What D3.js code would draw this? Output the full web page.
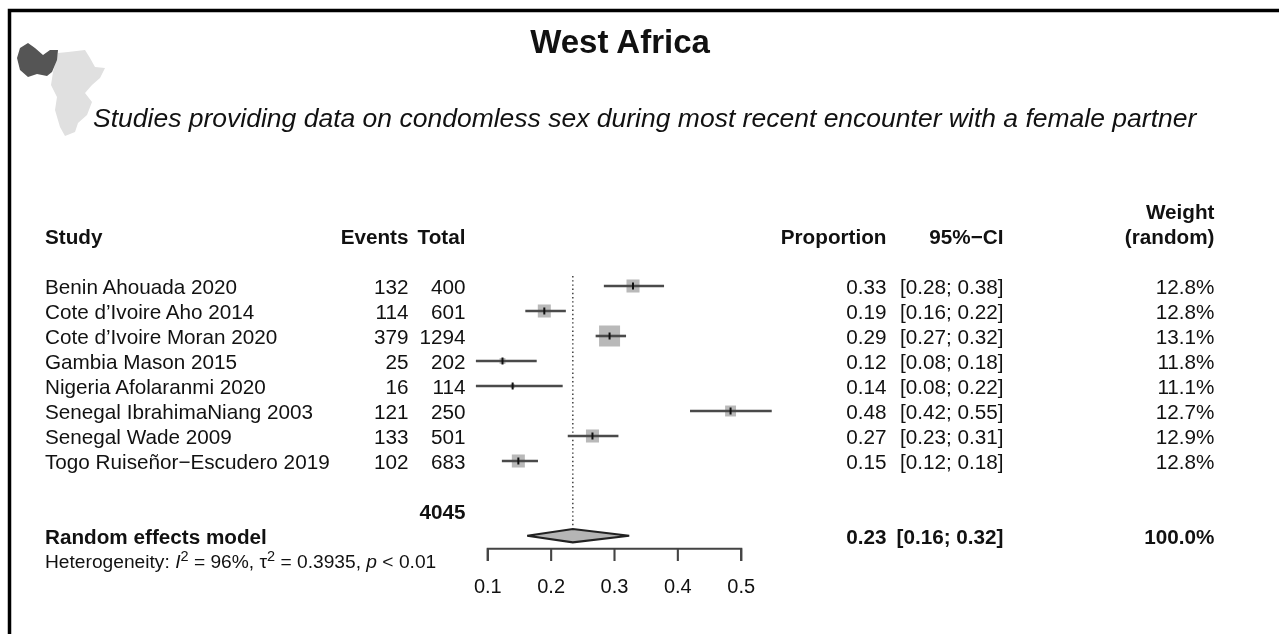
<!DOCTYPE html>
<html>
<head>
<meta charset="utf-8">
<script src="https://cdn.jsdelivr.net/npm/d3@7"></script>
<style>
  html, body { margin: 0; padding: 0; background: #fff; }
  svg { display: block; filter: blur(0.6px); }
  text { font-family: "Liberation Sans", Arial, sans-serif; fill: #111; }
</style>
</head>
<body>
<div id="viz"></div>
<script>
const studies = ['Benin Ahouada 2020', 'Cote d\u2019Ivoire Aho 2014', 'Cote d\u2019Ivoire Moran 2020', 'Gambia Mason 2015',
  'Nigeria Afolaranmi 2020', 'Senegal IbrahimaNiang 2003', 'Senegal Wade 2009', 'Togo Ruise\u00f1or\u2212Escudero 2019'];
const events = [132, 114, 379, 25, 16, 121, 133, 102];
const totals = [400, 601, 1294, 202, 114, 250, 501, 683];
const proportions = ['0.33', '0.19', '0.29', '0.12', '0.14', '0.48', '0.27', '0.15'];
const ciLabels = ['[0.28; 0.38]', '[0.16; 0.22]', '[0.27; 0.32]', '[0.08; 0.18]', '[0.08; 0.22]', '[0.42; 0.55]', '[0.23; 0.31]', '[0.12; 0.18]'];
const weights = ['12.8%', '12.8%', '13.1%', '11.8%', '11.1%', '12.7%', '12.9%', '12.8%'];

const points = [0.33, 0.19, 0.293, 0.124, 0.14, 0.484, 0.266, 0.149];
const lowers = [0.284, 0.16, 0.271, 0.082, 0.082, 0.42, 0.227, 0.123];
const uppers = [0.379, 0.224, 0.319, 0.178, 0.219, 0.549, 0.307, 0.18];
const boxPrecision = [0.62, 0.62, 1, 0.28, 0.2, 0.52, 0.62, 0.62];

const pooledLower = 0.163;
const pooledMid = 0.235;
const pooledUpper = 0.324;
const xTickValues = [0.1, 0.2, 0.3, 0.4, 0.5];

const width = 1279;
const height = 634;

const svg = d3.select('#viz').append('svg')
  .attr('width', width)
  .attr('height', height)
  .attr('viewBox', `0 0 ${width} ${height}`);

// frame, only top and left show
svg.append('path')
  .attr('d', `M9.5,${height}V10.5H${width}`)
  .attr('fill', 'none')
  .attr('stroke', '#000')
  .attr('stroke-width', 3.5);

// locator map
const mapLine = d3.line();
const africa = [[58, 53], [68, 52], [85, 50], [90, 58], [95, 67], [105, 68], [100, 78], [92, 85], [85, 93], [92, 102],
  [87, 115], [78, 123], [75, 132], [65, 136], [60, 127], [55, 110], [57, 97], [51, 85], [53, 72]];
const westRegion = [[17, 58], [20, 48], [28, 43], [35, 48], [43, 55], [50, 50], [58, 50], [57, 60], [52, 72], [47, 76],
  [37, 74], [28, 77], [20, 70]];
svg.append('path').attr('d', mapLine(africa) + 'Z').attr('fill', '#e0e0e0');
svg.append('path').attr('d', mapLine(westRegion) + 'Z').attr('fill', '#555');

svg.append('text').attr('x', 620).attr('y', 53)
  .attr('text-anchor', 'middle').attr('font-size', 33).attr('font-weight', 'bold')
  .text('West Africa');
svg.append('text').attr('x', 93).attr('y', 127)
  .attr('font-size', 26.5).attr('font-style', 'italic')
  .text('Studies providing data on condomless sex during most recent encounter with a female partner');

const x = d3.scaleLinear().domain([0.1, 0.5]).range([487.3, 740.7]);
const y = d3.scaleLinear().domain([0, 7]).range([286, 461]);
const box = d3.scaleLinear().domain([0, 1]).range([0, 21]);

const fontSize = 20.7;
const rows = d3.range(studies.length);

function column(values, xPos, anchor) {
  svg.append('g').selectAll('text').data(values).enter().append('text')
    .attr('x', xPos)
    .attr('y', (d, i) => y(i) + 8)
    .attr('text-anchor', anchor)
    .attr('font-size', fontSize)
    .attr('fill', '#222')
    .text((d) => d);
}

column(studies, 45, 'start');
column(events, 408.5, 'end');
column(totals, 465.5, 'end');
column(proportions, 886.5, 'end');
column(ciLabels, 1003.5, 'end');
column(weights, 1214.5, 'end');

// header
const headers = [['Study', 45, 'start'], ['Events', 408.5, 'end'], ['Total', 465.5, 'end'], ['Proportion', 886.5, 'end'],
  ['95%\u2212CI', 1003.5, 'end'], ['(random)', 1214.5, 'end']];
svg.append('g').selectAll('text').data(headers).enter().append('text')
  .attr('x', (d) => d[1])
  .attr('y', 244)
  .attr('text-anchor', (d) => d[2])
  .attr('font-size', fontSize)
  .attr('font-weight', 'bold')
  .text((d) => d[0]);
svg.append('text').attr('x', 1214.5).attr('y', 219)
  .attr('text-anchor', 'end').attr('font-size', fontSize).attr('font-weight', 'bold')
  .text('Weight');

// summary row
const summary = [['Random effects model', 45, 'start'], ['0.23', 886.5, 'end'], ['[0.16; 0.32]', 1003.5, 'end'], ['100.0%', 1214.5, 'end']];
svg.append('g').selectAll('text').data(summary).enter().append('text')
  .attr('x', (d) => d[1])
  .attr('y', 544)
  .attr('text-anchor', (d) => d[2])
  .attr('font-size', fontSize)
  .attr('font-weight', 'bold')
  .text((d) => d[0]);
svg.append('text').attr('x', 465.5).attr('y', 519)
  .attr('text-anchor', 'end').attr('font-size', fontSize).attr('font-weight', 'bold')
  .text('4045');

const het = svg.append('text').attr('x', 45).attr('y', 567.5).attr('font-size', 19.2).attr('fill', '#222');
het.append('tspan').text('Heterogeneity: ');
het.append('tspan').attr('font-style', 'italic').text('I');
het.append('tspan').attr('font-size', 14.5).attr('dy', -7).text('2');
het.append('tspan').attr('dy', 7).text(' = 96%, \u03c4');
het.append('tspan').attr('font-size', 14.5).attr('dy', -7).text('2');
het.append('tspan').attr('dy', 7).text(' = 0.3935, ');
het.append('tspan').attr('font-style', 'italic').text('p');
het.append('tspan').text(' < 0.01');

// pooled estimate reference line
svg.append('line')
  .attr('x1', x(pooledMid)).attr('x2', x(pooledMid))
  .attr('y1', 276).attr('y2', 528)
  .attr('stroke', '#333')
  .attr('stroke-width', 1.4)
  .attr('stroke-dasharray', '1.4 2.8');

// study markers
const marks = svg.append('g').selectAll('g').data(rows).enter().append('g');
marks.append('rect')
  .attr('x', (i) => x(points[i]) - box(boxPrecision[i]) / 2)
  .attr('y', (i) => y(i) - box(boxPrecision[i]) / 2)
  .attr('width', (i) => box(boxPrecision[i]))
  .attr('height', (i) => box(boxPrecision[i]))
  .attr('fill', '#b9b9b9');
marks.append('line')
  .attr('x1', (i) => x(lowers[i]))
  .attr('x2', (i) => x(uppers[i]))
  .attr('y1', (i) => y(i))
  .attr('y2', (i) => y(i))
  .attr('stroke', '#4a4a4a')
  .attr('stroke-width', 2.6);
marks.append('line')
  .attr('x1', (i) => x(points[i]))
  .attr('x2', (i) => x(points[i]))
  .attr('y1', (i) => y(i) - 3.5)
  .attr('y2', (i) => y(i) + 3.5)
  .attr('stroke', '#111')
  .attr('stroke-width', 2);

// pooled diamond
const diamondY = 535.7;
svg.append('path')
  .attr('d', `M${x(pooledLower)},${diamondY}L${x(pooledMid)},${diamondY - 6.7}L${x(pooledUpper)},${diamondY}L${x(pooledMid)},${diamondY + 6.7}Z`)
  .attr('fill', '#b5b5b5')
  .attr('stroke', '#222')
  .attr('stroke-width', 2.1);

// axis
const xAxis = d3.axisBottom(x).tickValues(xTickValues).tickSizeInner(12.7).tickSizeOuter(12.7).tickPadding(18).tickFormat(d3.format('.1f'));
const axisG = svg.append('g').attr('transform', 'translate(0, 548.3)').call(xAxis);
axisG.selectAll('path, line').attr('stroke', '#444').attr('stroke-width', 2.1);
axisG.selectAll('text').attr('font-size', 20).attr('font-family', '"Liberation Sans", Arial, sans-serif').attr('fill', '#222');
</script>
</body>
</html>
